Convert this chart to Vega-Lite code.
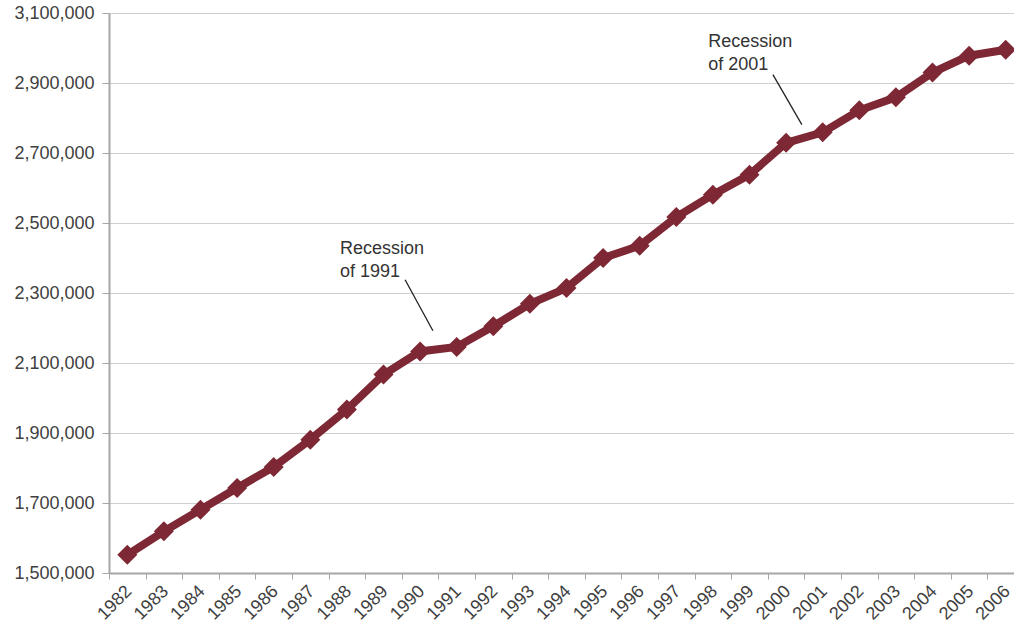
{
  "$schema": "https://vega.github.io/schema/vega-lite/v6.json",
  "width": 905,
  "height": 560,
  "autosize": "none",
  "padding": {"left": 109, "top": 13, "right": 0, "bottom": 54},
  "background": "white",
  "config": {
    "view": {"stroke": null},
    "font": "Liberation Sans",
    "axis": {"labelFont": "Liberation Sans", "labelFontSize": 18, "labelColor": "#404040"}
  },
  "datasets": {
    "series": [
      {"year": "1982", "value": 1552000},
      {"year": "1983", "value": 1619000},
      {"year": "1984", "value": 1681000},
      {"year": "1985", "value": 1743000},
      {"year": "1986", "value": 1803000},
      {"year": "1987", "value": 1881000},
      {"year": "1988", "value": 1967000},
      {"year": "1989", "value": 2067000},
      {"year": "1990", "value": 2133000},
      {"year": "1991", "value": 2146000},
      {"year": "1992", "value": 2205000},
      {"year": "1993", "value": 2269000},
      {"year": "1994", "value": 2314000},
      {"year": "1995", "value": 2400000},
      {"year": "1996", "value": 2435000},
      {"year": "1997", "value": 2517000},
      {"year": "1998", "value": 2581000},
      {"year": "1999", "value": 2638000},
      {"year": "2000", "value": 2729000},
      {"year": "2001", "value": 2759000},
      {"year": "2002", "value": 2822000},
      {"year": "2003", "value": 2859000},
      {"year": "2004", "value": 2930000},
      {"year": "2005", "value": 2978000},
      {"year": "2006", "value": 2995000}
    ],
    "notes": [
      {"label": ["Recession", "of 1991"], "tx": 1987.81, "ty": 2411000, "x1": 1989.59, "y1": 2338000, "x2": 1990.35, "y2": 2192000},
      {"label": ["Recession", "of 2001"], "tx": 1997.87, "ty": 3003000, "x1": 1999.64, "y1": 2924000, "x2": 2000.43, "y2": 2781000}
    ]
  },
  "layer": [
    {
      "data": {"name": "series"},
      "encoding": {
        "x": {
          "field": "year", "type": "ordinal",
          "scale": {"type": "band", "paddingInner": 0, "paddingOuter": 0, "range": [0, 915]},
          "axis": {
            "title": null, "labelAngle": -45, "labelAlign": "right", "labelBaseline": "top",
            "labelOffset": -5, "tickBand": "extent", "tickSize": 6,
            "tickColor": "#a6a6a6", "domainColor": "#a6a6a6", "domainWidth": 2, "grid": false,
            "labelPadding": 3
          }
        },
        "y": {
          "field": "value", "type": "quantitative",
          "scale": {"domain": [1500000, 3100000], "nice": false, "zero": false},
          "axis": {
            "title": null, "labelExpr": "format(datum.value, ',')",
            "values": [1500000, 1700000, 1900000, 2100000, 2300000, 2500000, 2700000, 2900000, 3100000],
            "grid": true, "gridColor": "#cfcfcf", "gridWidth": 1,
            "domainColor": "#a6a6a6", "domainWidth": 2,
            "tickColor": "#a6a6a6", "tickSize": 7, "labelPadding": 8
          }
        }
      },
      "layer": [
        {"mark": {"type": "line", "color": "#7e2835", "strokeWidth": 8}},
        {"mark": {"type": "point", "shape": "diamond", "filled": true, "size": 400, "color": "#7e2835", "opacity": 1}}
      ]
    },
    {
      "data": {"name": "notes"},
      "mark": {"type": "rule", "color": "#222222", "strokeWidth": 1.3},
      "encoding": {
        "x": {"field": "x1", "type": "quantitative", "scale": {"domain": [1981.5, 2006.5], "range": [0, 915], "nice": false, "zero": false}, "axis": null},
        "x2": {"field": "x2"},
        "y": {"field": "y1", "type": "quantitative"},
        "y2": {"field": "y2"}
      }
    },
    {
      "data": {"name": "notes"},
      "mark": {"type": "text", "align": "left", "baseline": "alphabetic", "fontSize": 18, "lineHeight": 23, "color": "#333333", "font": "Liberation Sans"},
      "encoding": {
        "x": {"field": "tx", "type": "quantitative", "scale": {"domain": [1981.5, 2006.5], "range": [0, 915], "nice": false, "zero": false}, "axis": null},
        "y": {"field": "ty", "type": "quantitative"},
        "text": {"field": "label"}
      }
    }
  ],
  "resolve": {"scale": {"x": "independent"}}
}
